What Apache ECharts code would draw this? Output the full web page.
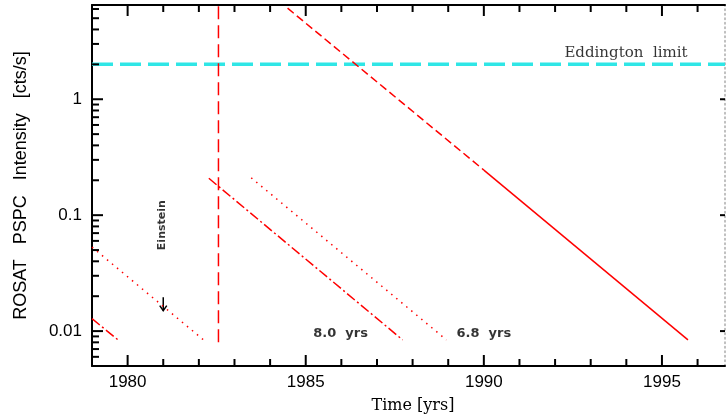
<!DOCTYPE html>
<html>
<head>
<meta charset="utf-8">
<title>ROSAT PSPC light curve</title>
<script src="https://cdn.jsdelivr.net/npm/echarts@6/dist/echarts.min.js"></script>
<style>
  html, body { margin: 0; padding: 0; background: #fff; }
  #chart { width: 726px; height: 417px; }
</style>
</head>
<body>
<div id="chart"></div>
<script>
// ---- data ----
var yearTicks = [1980, 1985, 1990, 1995];
var yearMinor = [1979, 1981, 1982, 1983, 1984, 1986, 1987, 1988,
                 1989, 1991, 1992, 1993, 1994, 1996];
var rateTicks = [0.01, 0.1, 1];
var rateMinor = [0.005, 0.006, 0.007, 0.008, 0.009,
                 0.02, 0.03, 0.04, 0.05, 0.06, 0.07, 0.08, 0.09,
                 0.2, 0.3, 0.4, 0.5, 0.6, 0.7, 0.8, 0.9,
                 2, 3, 4, 5, 6];

var eddington = [[1979, 2.0], [1996.77, 2.0]];
var outburst = [[1982.55, 0.008], [1982.55, 6.5]];
var decayPredicted = [[1984.49, 6.1], [1990.0, 0.245]];
var decayObserved = [[1990.0, 0.245], [1995.73, 0.0084]];
var decay80 = [[1982.28, 0.208], [1987.72, 0.0084]];
var decay68 = [[1983.47, 0.21], [1988.95, 0.0084]];
var earlyDotted = [[1979.0, 0.053], [1982.13, 0.0084]];
var earlyDashDot = [[1979.0, 0.0128], [1979.75, 0.0083]];
var einsteinLimit = [[1981.0, 0.0196, 0.0150]];  // year, upper limit, arrow tip

var noteText = ['Eddington  limit', '8.0  yrs', '6.8  yrs', 'Einstein'];
var notePos = [[1993.99, 2.52], [1985.98, 0.0096], [1990.0, 0.0096], [1980.97, 0.082]];

var X_MIN = 1979, X_MAX = 1996.77, Y_MIN = 0.005, Y_MAX = 6.5;

var chart = echarts.init(document.getElementById('chart'));

function axisLine() {
  return { show: true, onZero: false, lineStyle: { color: '#000', width: 2 } };
}
function labelFont() {
  return { color: '#000', fontSize: 17, fontFamily: 'Liberation Sans' };
}

function redLine(data, dash) {
  return {
    type: 'line', data: data, showSymbol: false, symbol: 'none', silent: true,
    lineStyle: { color: '#ff0000', width: 1.5, type: dash }
  };
}

var notes = noteText.map(function (t, i) {
  var big = i === 0;
  return {
    value: notePos[i],
    label: {
      show: true, position: 'inside', formatter: t, color: '#000',
      rotate: t === 'Einstein' ? 90 : 0,
      fontSize: big ? 15 : (t === 'Einstein' ? 11 : 13),
      fontWeight: big ? 'normal' : 'bold',
      fontFamily: big ? 'DejaVu Serif' : 'DejaVu Sans'
    }
  };
});

chart.setOption({
  animation: false,
  backgroundColor: '#fff',
  grid: { left: 92, right: 1, top: 5, bottom: 51, outerBoundsMode: 'none' },
  xAxis: [
    {
      type: 'value', position: 'bottom', min: X_MIN, max: X_MAX,
      axisLine: axisLine(), axisTick: { show: false }, splitLine: { show: false },
      axisLabel: Object.assign({ customValues: yearTicks, margin: 8,
                                 formatter: function (v) { return String(v); } }, labelFont()),
      name: 'Time [yrs]', nameLocation: 'middle', nameGap: 32,
      nameTextStyle: { color: '#000', fontSize: 16, fontFamily: 'DejaVu Serif', padding: [0, 0, 0, 9] }
    },
    {
      type: 'value', position: 'top', min: X_MIN, max: X_MAX,
      axisLine: axisLine(), axisTick: { show: false }, axisLabel: { show: false }, splitLine: { show: false }
    }
  ],
  yAxis: [
    {
      type: 'log', logBase: 10, position: 'left', min: Y_MIN, max: Y_MAX,
      axisLine: axisLine(), axisTick: { show: false }, splitLine: { show: false },
      axisLabel: Object.assign({ customValues: rateTicks, margin: 10,
                                 formatter: function (v) { return String(+v.toPrecision(3)); } }, labelFont()),
      name: 'ROSAT   PSPC   Intensity   [cts/s]', nameLocation: 'middle', nameGap: 62,
      nameTextStyle: { color: '#000', fontSize: 18, fontFamily: 'Liberation Sans' }
    },
    {
      type: 'log', logBase: 10, position: 'right', min: Y_MIN, max: Y_MAX,
      axisLine: { show: true, lineStyle: { color: '#aaa', width: 1.5, type: [1.5, 3] } },
      axisTick: { show: false }, axisLabel: { show: false }, splitLine: { show: false }
    }
  ],
  series: [
    {
      type: 'line', data: eddington, showSymbol: false, symbol: 'none', silent: true,
      lineStyle: { color: '#2fe6e6', width: 3.5, type: [21, 7] }
    },
    redLine(outburst, [13, 6]),
    redLine(decayPredicted, [8, 4]),
    redLine(decayObserved, 'solid'),
    redLine(decay80, [10, 3, 2, 3]),
    redLine(decay68, [1.5, 5]),
    redLine(earlyDotted, [1.5, 5]),
    redLine(earlyDashDot, [10, 3, 2, 3]),
    {
      type: 'custom', silent: true, clip: false, data: einsteinLimit,
      renderItem: function (params, api) {
        var top = api.coord([api.value(0), api.value(1)]);
        var tip = api.coord([api.value(0), api.value(2)]);
        return {
          type: 'group',
          children: [
            { type: 'line', shape: { x1: top[0], y1: top[1], x2: tip[0], y2: tip[1] },
              style: { stroke: '#000', lineWidth: 1.5 } },
            { type: 'polyline',
              shape: { points: [[tip[0] - 3.5, tip[1] - 5], tip, [tip[0] + 3.5, tip[1] - 5]] },
              style: { stroke: '#000', lineWidth: 1.5, fill: null } }
          ]
        };
      }
    },
    { type: 'scatter', symbolSize: 0, silent: true, data: notes }
  ]
});

// tick marks, placed through the chart's own axis scales
var ticks = [];
function seg(x1, y1, x2, y2) {
  ticks.push({ type: 'line', z: 100, silent: true,
               shape: { x1: x1, y1: y1, x2: x2, y2: y2 },
               style: { stroke: '#000', lineWidth: 2 } });
}
function xTicks(values, len) {
  values.forEach(function (v) {
    var b = chart.convertToPixel({ gridIndex: 0 }, [v, Y_MIN]);
    var t = chart.convertToPixel({ gridIndex: 0 }, [v, Y_MAX]);
    seg(b[0], b[1], b[0], b[1] - len);
    seg(t[0], t[1], t[0], t[1] + len);
  });
}
function yTicks(values, len, rightLen) {
  values.forEach(function (v) {
    var l = chart.convertToPixel({ gridIndex: 0 }, [X_MIN, v]);
    var r = chart.convertToPixel({ gridIndex: 0 }, [X_MAX, v]);
    seg(l[0], l[1], l[0] + len, l[1]);
    if (rightLen) seg(r[0] - rightLen, r[1], r[0], r[1]);
  });
}
xTicks(yearTicks, 11);
xTicks(yearMinor, 7);
yTicks(rateTicks, 11, 5);
yTicks(rateMinor, 7, 0);
chart.setOption({ graphic: ticks });
</script>
</body>
</html>
